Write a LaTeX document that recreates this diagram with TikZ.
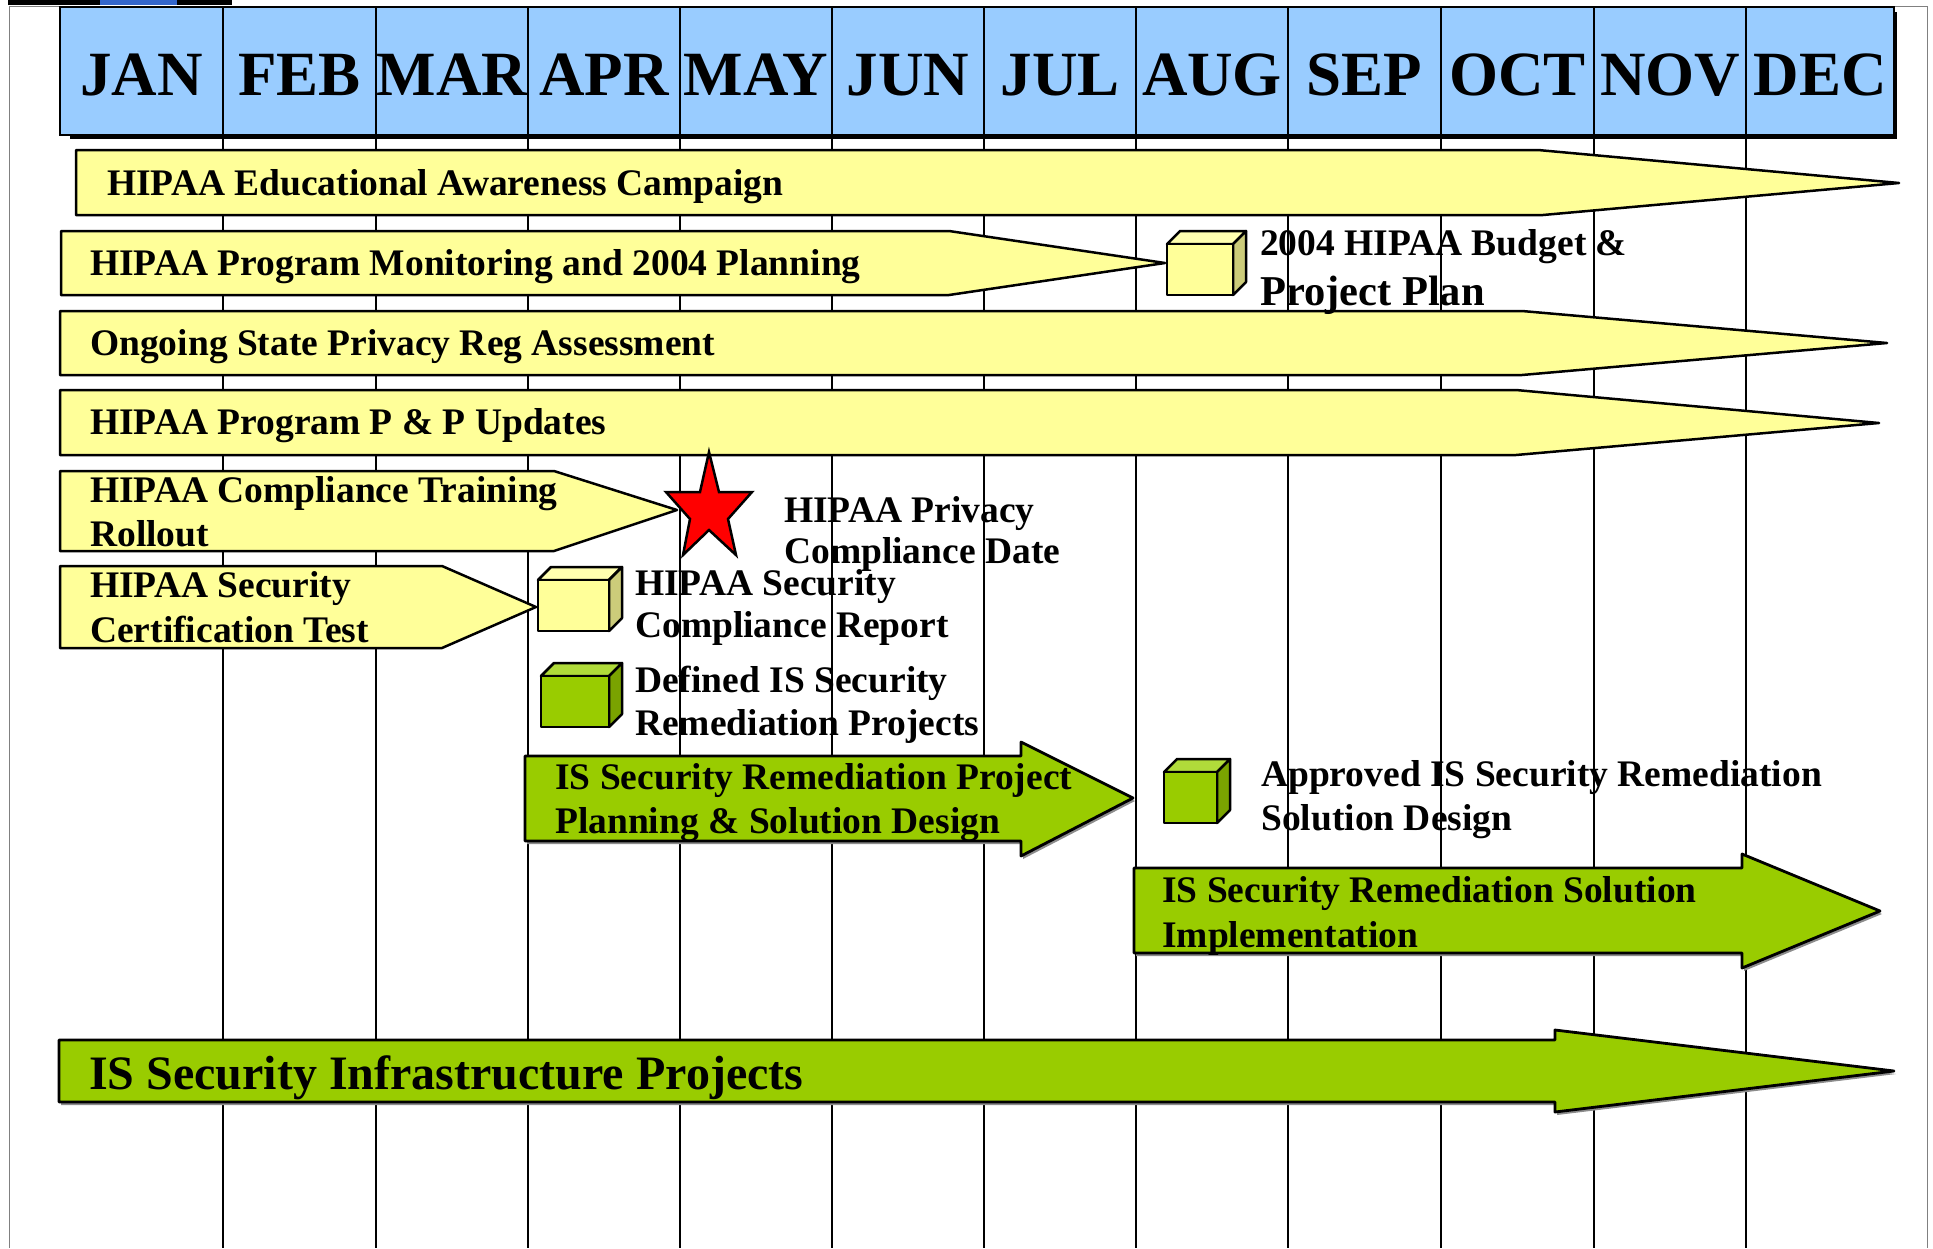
\documentclass[tikz,border=0pt]{standalone}
\usepackage{fontspec}
\setmainfont{Liberation Serif}

\definecolor{hdrblue}{HTML}{99CCFF}
\definecolor{baryellow}{HTML}{FFFF99}
\definecolor{cubeytop}{HTML}{FFFFB0}
\definecolor{cubeyside}{HTML}{CCCC7A}
\definecolor{isgreen}{HTML}{99CC00}
\definecolor{cubegtop}{HTML}{B0DB3A}
\definecolor{cubegside}{HTML}{7AA300}
\definecolor{slideblue}{HTML}{3366CC}
\definecolor{pageline}{HTML}{808080}

\tikzset{
  gridline/.style={line width=2pt, black},
  hdrbox/.style={draw=black, line width=2pt, fill=hdrblue},
  month/.style={anchor=base, inner sep=0pt, font=\bfseries\fontsize{63}{70}\selectfont},
  lbl/.style={anchor=base west, inner sep=0pt, font=\bfseries\fontsize{37.5}{44}\selectfont},
  biglbl/.style={anchor=base west, inner sep=0pt, font=\bfseries\fontsize{42.5}{50}\selectfont},
  hugelbl/.style={anchor=base west, inner sep=0pt, font=\bfseries\fontsize{48}{56}\selectfont},
  ybar/.style={draw=black, line width=2.5pt, fill=baryellow, line join=round},
  gbar/.style={draw=black, line width=2.8pt, fill=isgreen, line join=round},
  gshadow/.style={fill=black!45},
  cubeline/.style={draw=black, line width=2.5pt, line join=round},
}

% cube milestone: x, y (top-left of front face), width, front, top, side colours
\newcommand\cubeshape[6]{%
  \begin{scope}[shift={(#1,#2)}]
    \filldraw[cubeline, fill=#5] (0,0) -- (13,-13) -- (#3+13,-13) -- (#3,0) -- cycle;
    \filldraw[cubeline, fill=#6] (#3,0) -- (#3+13,-13) -- (#3+13,38) -- (#3,51) -- cycle;
    \filldraw[cubeline, fill=#4] (0,0) rectangle (#3,51);
  \end{scope}}

\begin{document}
\begin{tikzpicture}[x=1pt,y=-1pt]
\useasboundingbox (0,0) rectangle (1933,1248);
\fill[white] (0,0) rectangle (1933,1248);

% page frame and slide strip
\draw[pageline, line width=1pt] (9,1248) -- (9,6) -- (1927,6) -- (1927,1248);
\fill[black] (8,0) rectangle (232,5);
\fill[slideblue] (100,0) rectangle (177,5);

% month grid lines
\foreach \gx in {223,376,528,680,832,984,1136,1288,1441,1594,1746}
  \draw[gridline] (\gx,120) -- (\gx,1248);

% month header with shadow
\fill[black] (70,133) rectangle (1897,139);
\fill[black] (1892,12) rectangle (1897,139);
\foreach \m/\a/\b in {JAN/60/223, FEB/223/376, MAR/376/528, APR/528/680,
                      MAY/680/832, JUN/832/984, JUL/984/1136, AUG/1136/1288,
                      SEP/1288/1441, OCT/1441/1594, NOV/1594/1746, DEC/1746/1894}{
  \filldraw[hdrbox] (\a,7) rectangle (\b,135);
  \node[month] (m-\m) at ({(\a+\b)/2},95) {\m};
}

% yellow activity bars
\filldraw[ybar] (76,150) -- (1538,150) -- (1899,183) -- (1543,215) -- (76,215) -- cycle;
\node[lbl] (edu) at (107,195) {HIPAA Educational Awareness Campaign};

\filldraw[ybar] (61,231) -- (949,231) -- (1165,263) -- (949,295) -- (61,295) -- cycle;
\node[lbl] (plan) at (90,275) {HIPAA Program Monitoring and 2004 Planning};

\filldraw[ybar] (60,311) -- (1522,311) -- (1887,343) -- (1522,375) -- (60,375) -- cycle;
\node[lbl] (state) at (90,355) {Ongoing State Privacy Reg Assessment};

\filldraw[ybar] (60,390) -- (1516,390) -- (1879,423) -- (1516,455) -- (60,455) -- cycle;
\node[lbl] (pp) at (90,434) {HIPAA Program P \& P Updates};

\filldraw[ybar] (60,471) -- (554,471) -- (677,510) -- (554,551) -- (60,551) -- cycle;
\node[lbl] (train1) at (90,502) {HIPAA Compliance Training};
\node[lbl] (train2) at (90,546) {Rollout};

\filldraw[ybar] (60,566) -- (442,566) -- (536,607) -- (442,648) -- (60,648) -- cycle;
\node[lbl] (cert1) at (90,597) {HIPAA Security};
\node[lbl] (cert2) at (90,642) {Certification Test};

% green activity arrows
\fill[gshadow] (527,759) -- (1023,759) -- (1023,745) -- (1135,801) -- (1023,859) -- (1023,844) -- (527,844) -- cycle;
\filldraw[gbar] (525,756) -- (1021,756) -- (1021,742) -- (1133,798) -- (1021,856) -- (1021,841) -- (525,841) -- cycle;
\node[lbl] (rplan1) at (555,789) {IS Security Remediation Project};
\node[lbl] (rplan2) at (555,833) {Planning \& Solution Design};

\fill[gshadow] (1136,871) -- (1744,871) -- (1744,857) -- (1882,914) -- (1744,971) -- (1744,956) -- (1136,956) -- cycle;
\filldraw[gbar] (1134,868) -- (1742,868) -- (1742,854) -- (1880,911) -- (1742,968) -- (1742,953) -- (1134,953) -- cycle;
\node[lbl] (impl1) at (1162,902) {IS Security Remediation Solution};
\node[lbl] (impl2) at (1162,947) {Implementation};

\fill[gshadow] (61,1043) -- (1557,1043) -- (1557,1033) -- (1896,1074) -- (1557,1115) -- (1557,1105) -- (61,1105) -- cycle;
\filldraw[gbar] (59,1040) -- (1555,1040) -- (1555,1030) -- (1894,1071) -- (1555,1112) -- (1555,1102) -- (59,1102) -- cycle;
\node[hugelbl] (infra) at (89,1089) {IS Security Infrastructure Projects};

% milestone cubes
\cubeshape{1167}{244}{66}{baryellow}{cubeytop}{cubeyside}
\node[lbl] (budget1) at (1260,255) {2004 HIPAA Budget \&};
\node[biglbl] (budget2) at (1260,305) {Project Plan};

\cubeshape{538}{580}{71}{baryellow}{cubeytop}{cubeyside}
\node[lbl] (report1) at (635,595) {HIPAA Security};
\node[lbl] (report2) at (635,637) {Compliance Report};

\cubeshape{541}{676}{68}{isgreen}{cubegtop}{cubegside}
\node[lbl] (defined1) at (635,692) {Defined IS Security};
\node[lbl] (defined2) at (635,735) {Remediation Projects};

\cubeshape{1164}{772}{53}{isgreen}{cubegtop}{cubegside}
\node[lbl] (approved1) at (1261,786) {Approved IS Security Remediation};
\node[lbl] (approved2) at (1261,830) {Solution Design};

% privacy compliance star
\filldraw[draw=black, line width=2.5pt, fill=red, line join=miter]
  (709,452) -- (719,492) -- (752,492) -- (728,519) -- (736,555) -- (709,530)
  -- (683,555) -- (690,519) -- (666,492) -- (700,492) -- cycle;
\node[lbl] (privacy1) at (784,522) {HIPAA Privacy};
\node[lbl] (privacy2) at (784,563) {Compliance Date};

\end{tikzpicture}
\end{document}
